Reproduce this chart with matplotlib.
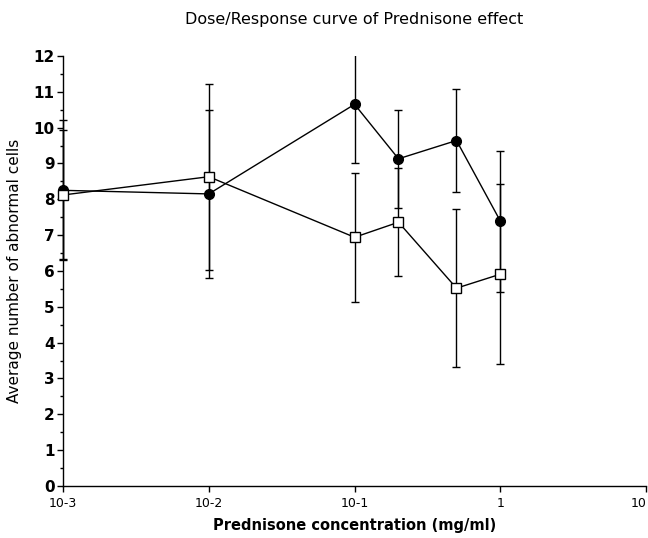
import matplotlib
matplotlib.use("Agg")
import matplotlib.pyplot as plt
from matplotlib.patches import Rectangle
from matplotlib.ticker import MultipleLocator, FixedLocator, NullLocator

# Prednisone doses (mg/ml)
dose = [0.001, 0.01, 0.1, 0.2, 0.5, 1.0]

# Series 1 (filled circles): mean and error half-width
mean_filled = [8.25, 8.15, 10.65, 9.13, 9.64, 7.39]
err_filled = [1.95, 2.35, 1.63, 1.36, 1.43, 1.97]

# Series 2 (open squares): mean and error half-width
mean_open = [8.12, 8.63, 6.94, 7.36, 5.52, 5.91]
err_open = [1.80, 2.60, 1.80, 1.50, 2.21, 2.51]

xtick_values = [0.001, 0.01, 0.1, 1, 10]
xtick_labels = ["10-3", "10-2", "10-1", "1", "10"]

plt.rcParams['font.family'] = ['DejaVu Sans']

fig = plt.figure(figsize=(6.48, 5.38), dpi=100)
ax = fig.add_axes([0.0972, 0.0967, 0.9, 0.7993])

# clip only at the top/bottom of the plot area, let marks spill sideways
clip_rect = Rectangle((-0.05, 0.0), 1.1, 1.0, transform=ax.transAxes,
                      facecolor='none', edgecolor='none')
ax.add_patch(clip_rect)


def draw_series(x, y, e, marker, face, z):
    cont = ax.errorbar(x, y, yerr=e, fmt='-' + marker, color='black',
                       mfc=face, mec='black', ms=7, mew=1, lw=1,
                       elinewidth=1, capsize=3, capthick=1, zorder=z)
    line, caps, bars = cont.lines
    for art in [line, *caps, *bars]:
        art.set_clip_path(clip_rect)


draw_series(dose, mean_filled, err_filled, 'o', 'black', 3)
draw_series(dose, mean_open, err_open, 's', 'white', 4)

ax.set_xscale('log')
ax.set_xlim(0.001, 10)
ax.set_ylim(0, 12)

ax.xaxis.set_major_locator(FixedLocator(xtick_values))
ax.xaxis.set_minor_locator(NullLocator())
ax.set_xticklabels(xtick_labels)
ax.get_xticklabels()[-1].set_horizontalalignment('right')
ax.yaxis.set_major_locator(MultipleLocator(1))
ax.yaxis.set_minor_locator(MultipleLocator(0.5))

for side in ('top', 'right'):
    ax.spines[side].set_visible(False)
for side in ('left', 'bottom'):
    ax.spines[side].set_linewidth(1)

ax.tick_params(axis='y', which='major', direction='out', length=4, width=1,
               labelsize=11, pad=2)
ax.tick_params(axis='y', which='minor', direction='out', length=2, width=1)
ax.tick_params(axis='x', which='major', direction='out', length=4, width=1,
               labelsize=9, pad=4)
for lbl in ax.get_yticklabels():
    lbl.set_fontweight('bold')

ax.set_title("Dose/Response curve of Prednisone effect", fontsize=11.5, pad=23)
ax.set_xlabel("Prednisone concentration (mg/ml)", fontsize=10.5,
              fontweight='bold', labelpad=6)
ax.set_ylabel("Average number of abnormal cells", fontsize=11, labelpad=8)

fig.savefig("out.png", dpi=100, facecolor='white')
